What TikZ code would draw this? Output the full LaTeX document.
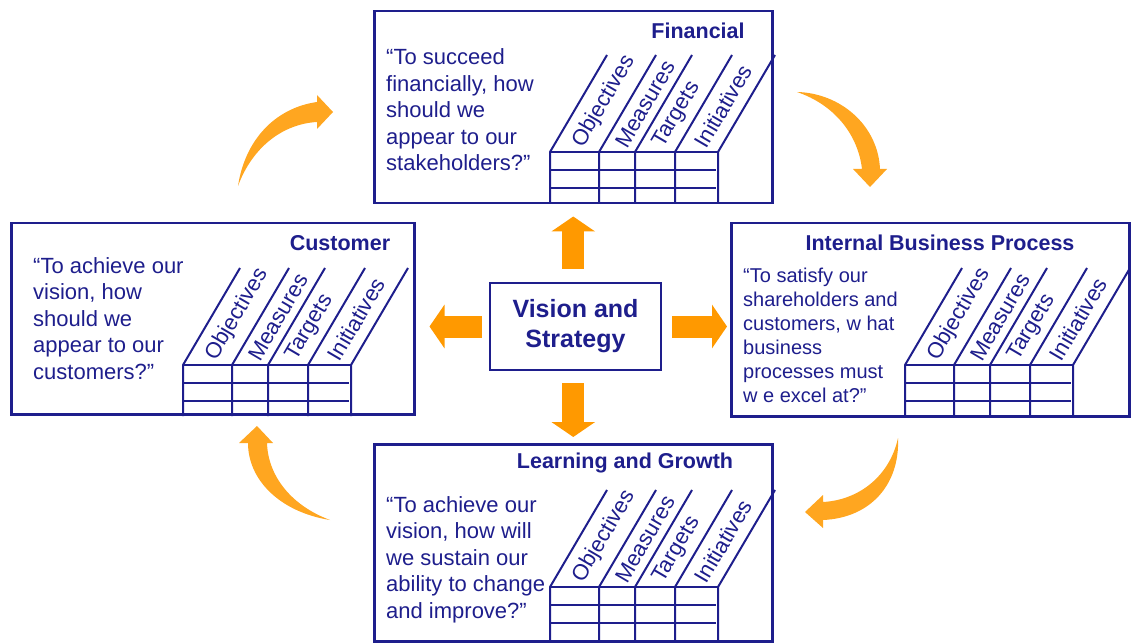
\documentclass[tikz,border=0pt]{standalone}
\usepackage{fontspec}
\setmainfont{Liberation Sans}
\usetikzlibrary{arrows.meta}
\definecolor{bscblue}{RGB}{30,30,140}
\definecolor{bscorange}{RGB}{255,153,0}
\definecolor{bscarc}{RGB}{255,166,32}
\begin{document}
\begin{tikzpicture}[x=1pt,y=-1pt,
 pbox/.style={draw=bscblue,line width=2.5pt,inner sep=0pt,anchor=north west},
 ptitle/.style={anchor=base,inner sep=0pt,text=bscblue,font=\bfseries\fontsize{21.5}{26}\selectfont},
 quote/.style={anchor=base west,align=left,inner sep=0pt,text=bscblue,font=\fontsize{22}{26.5}\selectfont},
 gridline/.style={draw=bscblue,line width=2pt},
 colhead/.style={rotate=59.6,anchor=west,inner sep=0pt,text=bscblue,font=\fontsize{22}{26}\selectfont},
 bigarrow/.style={draw=bscorange,line width=22pt,-{Triangle[length=15pt,width=43pt]}}]
 \useasboundingbox (0,0) rectangle (1131,644);
 % perspective boxes
 \node[pbox,minimum width=398pt,minimum height=192pt] (fin) at (373,10) {};
 \node[pbox,minimum width=403pt,minimum height=191pt] (cus) at (10,222) {};
 \node[pbox,minimum width=398pt,minimum height=193pt] (ibp) at (730,222) {};
 \node[pbox,minimum width=398pt,minimum height=197pt] (lrn) at (373,443) {};
 \node[draw=bscblue,line width=2.5pt,minimum width=171pt,minimum height=87pt,align=center,
  text=bscblue,font=\bfseries\fontsize{25}{30}\selectfont] (vis) at (575.5,326.5) {Vision and\\Strategy};
 % titles
 \node[ptitle] (fin-title) at (698,39) {Financial};
 \node[ptitle] (cus-title) at (340,250) {Customer};
 \node[ptitle] (ibp-title) at (940,250) {Internal Business Process};
 \node[ptitle] (lrn-title) at (625,468) {Learning and Growth};
 % questions (anchored on the last line)
 \node[quote] (fin-q) at (386,171) {“To succeed\\financially, how\\should we\\appear to our\\stakeholders?”};
 \node[quote] (cus-q) at (33,379) {“To achieve our\\vision, how\\should we\\appear to our\\customers?”};
 \node[quote,font=\fontsize{20}{24}\selectfont] (ibp-q) at (743,402) {“To satisfy our\\shareholders and\\customers, w hat\\business\\processes must\\w e excel at?”};
 \node[quote] (lrn-q) at (386,618) {“To achieve our\\vision, how will\\we sustain our\\ability to change\\and improve?”};
 % tables
 \foreach \tx/\ty/\tb in {550/152/202,183/365/416,905/365/415,550/587/640}{
  \draw[gridline] (\tx,\ty) -- ++(168,0);
  \draw[gridline] (\tx,\ty+18) -- ++(166,0);
  \draw[gridline] (\tx,\ty+36) -- ++(166,0);
  \foreach \c in {0,49,85,125,168}
   \draw[gridline] (\tx+\c,\tb) -- (\tx+\c,\ty) -- ++(57,-97);
  \foreach \m/\lab [count=\k] in {24.5/Objectives,67/Measures,105/Targets,146.5/Initiatives}
   \node[colhead] (col\k-\tx-\ty) at (\tx+\m+3.5,\ty-6) {\lab};
 }
 % straight arrows
 \draw[bigarrow,shorten <=13pt,shorten >=12pt] (fin.south |- vis.north) -- (fin.south);
 \draw[bigarrow,shorten <=12pt,shorten >=6pt] (fin.south |- vis.south) -- (lrn.north);
 \draw[bigarrow,shorten <=7pt,shorten >=14pt] (vis.west) -- (vis.west -| cus.east);
 \draw[bigarrow,shorten <=10pt,shorten >=3pt] (vis.east) -- (vis.east -| ibp.west);
 % curved arrows
 \fill[bscarc] (238,186) .. controls (245,140) and (275,108) .. (317,102) -- (317,95) -- (333,112)
  -- (317,129) -- (317,122) .. controls (282,124) and (252,148) .. (238,186) -- cycle;
 \fill[bscarc] (797,92) .. controls (840,93) and (878,125) .. (880,169) -- (887,169) -- (870,187)
  -- (853,169) -- (862,169) .. controls (858,135) and (835,105) .. (797,92) -- cycle;
 \fill[bscarc] (898,438) .. controls (900,485) and (870,518) .. (823,520) -- (823,528) -- (805,512)
  -- (823,495) -- (823,502) .. controls (860,500) and (890,475) .. (898,438) -- cycle;
 \fill[bscarc] (330,520) .. controls (280,512) and (248,480) .. (248,443) -- (239,443) -- (257,426)
  -- (273,443) -- (267,443) .. controls (268,475) and (290,505) .. (330,520) -- cycle;
\end{tikzpicture}
\end{document}
